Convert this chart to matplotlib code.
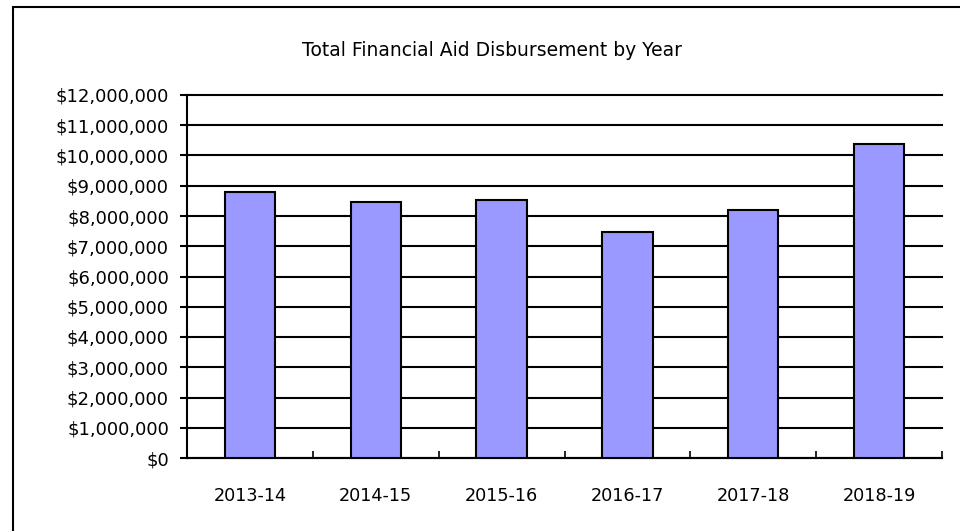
import matplotlib.pyplot as plt
from matplotlib.patches import Rectangle
from matplotlib.ticker import FuncFormatter, MultipleLocator
import numpy as np

plt.rcParams['font.family'] = ['DejaVu Sans']

years = ['2013-14', '2014-15', '2015-16', '2016-17', '2017-18', '2018-19']
totals = [8790000, 8460000, 8530000, 7480000, 8200000, 10370000]

fig = plt.figure(figsize=(9.6, 5.31), dpi=100)
W, H = 960, 531
# plot area in pixels: left 187, right 942, top 95, bottom 458
ax = fig.add_axes([187 / W, 1 - 458 / H, (942 - 187) / W, (458 - 95) / H])

# outer chart frame (right/bottom edges run off the picture)
fig.patches.append(Rectangle((13 / W, -0.05), 1.1, 1 - 7 / H + 0.05,
                             transform=fig.transFigure, fill=False,
                             edgecolor='black', linewidth=1.5))

x = np.arange(len(years))
ax.bar(x, totals, width=0.4, color='#9999ff', edgecolor='black', linewidth=1.5, zorder=3)

ax.set_ylim(0, 12000000)
ax.set_xlim(-0.5, len(years) - 0.5)
ax.yaxis.set_major_locator(MultipleLocator(1000000))
ax.yaxis.set_major_formatter(FuncFormatter(lambda v, p: '${:,.0f}'.format(v)))
ax.grid(axis='y', color='black', linewidth=1.5, zorder=0)
for gl in ax.get_ygridlines():
    gl.set_clip_on(False)

ax.set_xticks(x)
ax.set_xticklabels(years)
ax.set_xticks(np.arange(len(years) + 1) - 0.5, minor=True)
ax.tick_params(axis='x', which='major', length=0, pad=21, labelsize=12.7)
ax.tick_params(axis='x', which='minor', direction='in', length=5, width=1.2)
ax.tick_params(axis='y', direction='out', length=5, width=1.5, labelsize=13, pad=8)

for s in ['top', 'right']:
    ax.spines[s].set_visible(False)
ax.spines['left'].set_linewidth(1.5)
ax.spines['bottom'].set_linewidth(1.5)

fig.text(0.512, 1 - 50 / H, 'Total Financial Aid Disbursement by Year',
         ha='center', va='center', fontsize=13.5)

plt.savefig('out.png', dpi=100)
